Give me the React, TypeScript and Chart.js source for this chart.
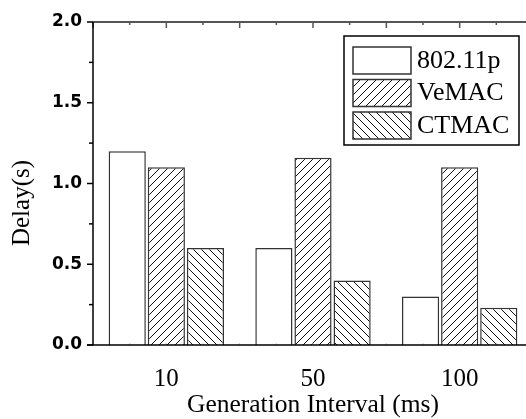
import React, { useEffect, useRef } from 'react';
import { Chart, registerables } from 'chart.js';

Chart.register(...registerables);

const categories = ['10', '50', '100'];
const seriesNames = ['802.11p', 'VeMAC', 'CTMAC'];
const delay80211p = [1.2, 0.6, 0.3];
const delayVeMAC = [1.1, 1.16, 1.1];
const delayCTMAC = [0.6, 0.4, 0.23];
const yTickValues = [0, 0.5, 1.0, 1.5, 2.0];
const yTitle = 'Delay(s)';
const xTitle = 'Generation Interval (ms)';

const SERIF = '"Liberation Serif", "Times New Roman", serif';
const SANS = '"DejaVu Sans", "Liberation Sans", Arial, sans-serif';

function makeHatch(ctx: CanvasRenderingContext2D, dir: 'fwd' | 'back') {
  const s = 8;
  const c = document.createElement('canvas');
  c.width = s;
  c.height = s;
  const g = c.getContext('2d')!;
  g.fillStyle = '#ffffff';
  g.fillRect(0, 0, s, s);
  g.strokeStyle = '#111111';
  g.lineWidth = 1;
  g.beginPath();
  if (dir === 'fwd') {
    g.moveTo(-1, s + 1); g.lineTo(s + 1, -1);
    g.moveTo(-1, 1); g.lineTo(1, -1);
    g.moveTo(s - 1, s + 1); g.lineTo(s + 1, s - 1);
  } else {
    g.moveTo(-1, -1); g.lineTo(s + 1, s + 1);
    g.moveTo(s - 1, -1); g.lineTo(s + 1, 1);
    g.moveTo(-1, s - 1); g.lineTo(1, s + 1);
  }
  g.stroke();
  return ctx.createPattern(c, 'repeat') as CanvasPattern;
}

const framePlugin = {
  id: 'frameAndLegend',
  afterDraw(chart: any) {
    const ctx: CanvasRenderingContext2D = chart.ctx;
    const ca = chart.chartArea;
    const ys = chart.scales.y;
    const n = categories.length;
    const w = (ca.right - ca.left) / n;
    const px = (idx: number) => ca.left + (idx + 0.5) * w;

    ctx.save();
    // top + right frame
    ctx.strokeStyle = '#555555';
    ctx.lineWidth = 2;
    ctx.beginPath();
    ctx.moveTo(ca.left, ca.top);
    ctx.lineTo(ca.right, ca.top);
    ctx.moveTo(ca.right, ca.top);
    ctx.lineTo(ca.right, ca.bottom);
    ctx.stroke();

    // top ticks (inward)
    ctx.lineWidth = 1.5;
    for (let q = -2; q <= n * 4 - 2; q++) {
      const x = px(q / 4);
      const major = q % 2 === 0;
      ctx.beginPath();
      ctx.moveTo(x, ca.top);
      ctx.lineTo(x, ca.top + (major ? 6 : 3));
      ctx.stroke();
    }
    // right ticks (inward)
    for (let i = 0; i < yTickValues.length; i++) {
      const y = ys.getPixelForValue(yTickValues[i]);
      ctx.beginPath();
      ctx.moveTo(ca.right, y);
      ctx.lineTo(ca.right - 6, y);
      ctx.stroke();
    }

    // bottom faint ticks
    ctx.strokeStyle = '#c8c8c8';
    ctx.lineWidth = 1;
    for (let q = -1; q <= n * 4 - 2; q++) {
      const x = px(q / 4);
      ctx.beginPath();
      ctx.moveTo(x, ca.bottom);
      ctx.lineTo(x, ca.bottom - 2);
      ctx.stroke();
    }

    // left + bottom axes
    ctx.strokeStyle = '#000000';
    ctx.lineWidth = 1.5;
    ctx.beginPath();
    ctx.moveTo(ca.left, ca.top);
    ctx.lineTo(ca.left, ca.bottom);
    ctx.moveTo(ca.left - 6, ca.bottom);
    ctx.lineTo(ca.right, ca.bottom);
    ctx.stroke();

    // left ticks (outward)
    for (let i = 0; i < yTickValues.length; i++) {
      const y = ys.getPixelForValue(yTickValues[i]);
      ctx.beginPath();
      ctx.moveTo(ca.left, y);
      ctx.lineTo(ca.left - 6, y);
      ctx.stroke();
      if (i < yTickValues.length - 1) {
        const ym = ys.getPixelForValue((yTickValues[i] + yTickValues[i + 1]) / 2);
        ctx.beginPath();
        ctx.moveTo(ca.left, ym);
        ctx.lineTo(ca.left - 4, ym);
        ctx.stroke();
      }
    }

    // y title
    ctx.fillStyle = '#000000';
    ctx.font = `25px ${SERIF}`;
    ctx.textAlign = 'center';
    ctx.textBaseline = 'middle';
    ctx.translate(22, 203);
    ctx.rotate(-Math.PI / 2);
    ctx.fillText(yTitle, 0, 0);
    ctx.setTransform(1, 0, 0, 1, 0, 0);

    // legend
    const lx = ca.right - 189;
    const ly = ca.top + 14;
    const lw = 175;
    const lh = 109;
    ctx.fillStyle = '#ffffff';
    ctx.fillRect(lx, ly, lw, lh);
    ctx.strokeStyle = '#000000';
    ctx.lineWidth = 1.5;
    ctx.strokeRect(lx, ly, lw, lh);
    const datasets = chart.data.datasets;
    for (let i = 0; i < datasets.length; i++) {
      const sx = lx + 9;
      const sy = ly + 11 + i * 32.5;
      ctx.fillStyle = datasets[i].backgroundColor;
      ctx.fillRect(sx, sy, 58, 27);
      ctx.strokeStyle = '#333333';
      ctx.lineWidth = 1.5;
      ctx.strokeRect(sx, sy, 58, 27);
      ctx.fillStyle = '#000000';
      ctx.font = `26px ${SERIF}`;
      ctx.textAlign = 'left';
      ctx.textBaseline = 'middle';
      ctx.fillText(datasets[i].label, sx + 64, sy + 14);
    }
    ctx.restore();
  },
};

export default function App() {
  const canvasRef = useRef<HTMLCanvasElement | null>(null);

  useEffect(() => {
    const canvas = canvasRef.current!;
    const ctx = canvas.getContext('2d')!;
    const fwd = makeHatch(ctx, 'fwd');
    const back = makeHatch(ctx, 'back');
    const fills: any[] = ['#ffffff', fwd, back];
    const values = [delay80211p, delayVeMAC, delayCTMAC];

    const chart = new Chart(canvas, {
      type: 'bar',
      data: {
        labels: categories,
        datasets: seriesNames.map((name, i) => ({
          label: name,
          data: values[i],
          backgroundColor: fills[i],
          borderColor: '#333333',
          borderWidth: 1.5,
          categoryPercentage: 0.8,
          barPercentage: 0.95,
        })),
      },
      options: {
        responsive: false,
        animation: false,
        devicePixelRatio: 1,
        layout: { padding: { left: 0, right: 12, top: 22, bottom: 0 } },
        plugins: {
          legend: { display: false },
          tooltip: { enabled: false },
        },
        scales: {
          x: {
            type: 'category',
            offset: true,
            grid: { display: false, drawTicks: false },
            border: { display: false },
            ticks: {
              color: '#000000',
              font: { family: SERIF, size: 25 },
              padding: 19,
            },
            title: {
              display: true,
              text: xTitle,
              color: '#000000',
              font: { family: SERIF, size: 25.5, lineHeight: 1 },
              padding: { top: 0, bottom: 0.5 },
            },
            afterFit: (s: any) => {
              s.height = 74;
            },
          },
          y: {
            min: 0,
            max: 2,
            grid: { display: false, drawTicks: false },
            border: { display: false },
            afterBuildTicks: (s: any) => {
              s.ticks = yTickValues.map((v) => ({ value: v }));
            },
            ticks: {
              color: '#000000',
              font: { family: SANS, size: 17, weight: 'bold' },
              padding: 11,
              callback: (v: any) => Number(v).toFixed(1),
            },
            afterFit: (s: any) => {
              s.width = 93;
            },
          },
        },
      },
      plugins: [framePlugin],
    });
    return () => chart.destroy();
  }, []);

  return (
    <div
      style={{
        position: 'fixed',
        left: 0,
        top: 0,
        width: 526,
        height: 419,
        overflow: 'hidden',
        background: '#ffffff',
      }}
    >
      <canvas ref={canvasRef} width={545} height={419} style={{ display: 'block' }} />
    </div>
  );
}
